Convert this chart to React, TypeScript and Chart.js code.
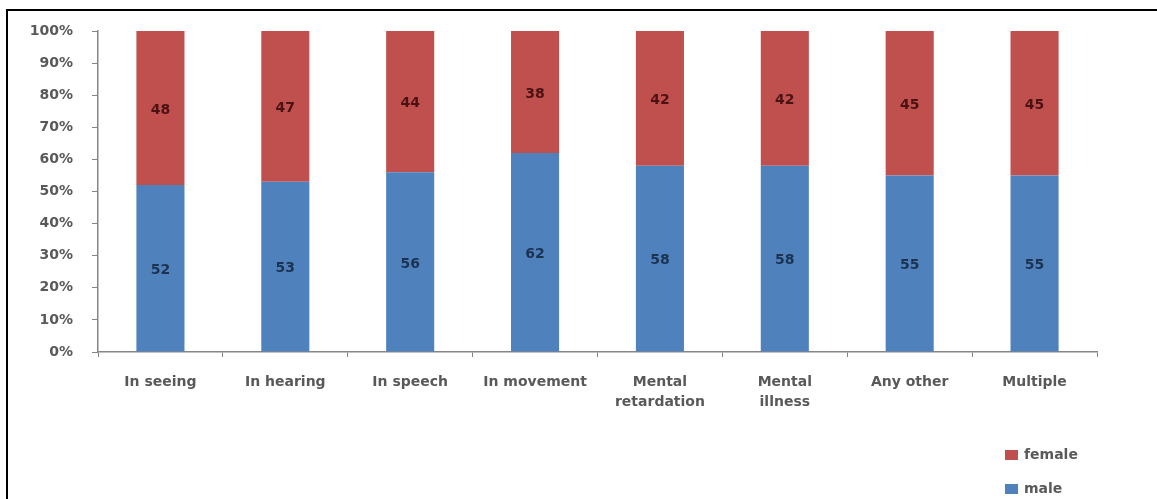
import React, { useEffect, useRef } from "react";
import { Chart, registerables } from "chart.js";

Chart.register(...registerables);

// Disability categories and the male / female share (percent) in each
const categories: (string | string[])[] = [
  "In seeing",
  "In hearing",
  "In speech",
  "In movement",
  ["Mental", "retardation"],
  ["Mental", "illness"],
  "Any other",
  "Multiple",
];
const maleShare = [52, 53, 56, 62, 58, 58, 55, 55];
const femaleShare = [48, 47, 44, 38, 42, 42, 45, 45];
const yTickValues = [0, 10, 20, 30, 40, 50, 60, 70, 80, 90, 100];

const FONT = "'DejaVu Sans', Verdana, sans-serif";
const AXIS_GREY = "#868686";
const TEXT_GREY = "#595959";

// Writes each segment's value in the middle of its bar piece
const segmentLabels = {
  id: "segmentLabels",
  afterDatasetsDraw(chart: any) {
    const ctx = chart.ctx;
    ctx.save();
    ctx.font = `bold 14px ${FONT}`;
    ctx.textAlign = "center";
    ctx.textBaseline = "middle";
    chart.data.datasets.forEach((ds: any, di: number) => {
      const meta = chart.getDatasetMeta(di);
      meta.data.forEach((bar: any, i: number) => {
        ctx.fillStyle = ds.labelColor;
        ctx.fillText(String(ds.data[i]), bar.x, (bar.y + bar.base) / 2 + 2);
      });
    });
    ctx.restore();
  },
};

// Vertical legend in the lower right corner, top entry = top of the stack
const cornerLegend = {
  id: "cornerLegend",
  afterDraw(chart: any) {
    const ctx = chart.ctx;
    const items = chart.data.datasets.slice().reverse();
    ctx.save();
    ctx.font = `bold 14px ${FONT}`;
    ctx.textAlign = "left";
    ctx.textBaseline = "middle";
    items.forEach((ds: any, k: number) => {
      const cy = 455 + k * 34;
      ctx.fillStyle = ds.backgroundColor;
      ctx.fillRect(1005, cy - 5, 13, 10);
      ctx.fillStyle = TEXT_GREY;
      ctx.fillText(ds.label, 1024, cy);
    });
    ctx.restore();
  },
};

export default function App() {
  const canvasRef = useRef<HTMLCanvasElement | null>(null);

  useEffect(() => {
    document.body.style.margin = "0";
    const canvas = canvasRef.current;
    if (!canvas) return;
    const chart = new Chart(canvas, {
      type: "bar",
      data: {
        labels: categories,
        datasets: [
          {
            label: "male",
            data: maleShare,
            backgroundColor: "#4F81BD",
            labelColor: "#1B3350",
            barPercentage: 0.385,
            categoryPercentage: 1,
          } as any,
          {
            label: "female",
            data: femaleShare,
            backgroundColor: "#C0504D",
            labelColor: "#4A1212",
            barPercentage: 0.385,
            categoryPercentage: 1,
          } as any,
        ],
      },
      options: {
        animation: false,
        responsive: false,
        maintainAspectRatio: false,
        layout: { padding: { top: 31, right: 60, bottom: 0, left: 0 } },
        plugins: {
          legend: { display: false },
          tooltip: { enabled: false },
        },
        scales: {
          x: {
            stacked: true,
            afterFit(scale: any) {
              scale.height = 147;
            },
            grid: {
              offset: true,
              drawOnChartArea: false,
              drawTicks: true,
              tickLength: 5,
              color: AXIS_GREY,
            },
            border: { display: true, color: AXIS_GREY, width: 1.5 },
            ticks: {
              color: TEXT_GREY,
              font: { family: FONT, size: 14, weight: "bold", lineHeight: 1.4 },
              padding: 16,
              maxRotation: 0,
              autoSkip: false,
            },
          },
          y: {
            stacked: true,
            min: 0,
            max: 100,
            afterFit(scale: any) {
              scale.width = 98;
            },
            afterBuildTicks(scale: any) {
              scale.ticks = yTickValues.map((v) => ({ value: v }));
            },
            grid: {
              drawOnChartArea: false,
              drawTicks: true,
              tickLength: 6,
              color: AXIS_GREY,
            },
            border: { display: true, color: AXIS_GREY, width: 1.5 },
            ticks: {
              color: TEXT_GREY,
              font: { family: FONT, size: 14, weight: "bold" },
              padding: 19,
              callback: (v: any) => `${v}%`,
            },
          },
        },
      },
      plugins: [segmentLabels, cornerLegend],
    });
    return () => chart.destroy();
  }, []);

  return (
    <div style={{ position: "relative", width: 1157, height: 499, background: "#fff", overflow: "hidden" }}>
      <canvas ref={canvasRef} width={1157} height={499} style={{ display: "block" }} />
      <div
        style={{
          position: "absolute",
          left: 6,
          top: 9,
          right: -4,
          bottom: -4,
          borderTop: "2px solid #000",
          borderLeft: "2px solid #000",
          pointerEvents: "none",
        }}
      />
    </div>
  );
}
